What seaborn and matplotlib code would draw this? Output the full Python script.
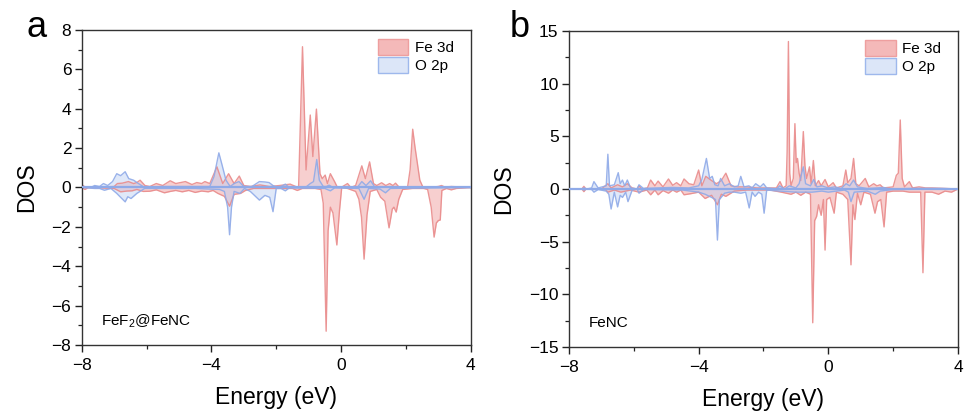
import numpy as np
import pandas as pd
import matplotlib
matplotlib.use("Agg")
import matplotlib.pyplot as plt
from matplotlib.patches import Patch
import seaborn as sns

# ---------------- data ----------------
# Panel a : FeF2@FeNC
a_fe_up_E = [-8.0, -7.95, -7.9, -7.8, -7.0, -6.9, -6.75, -6.56, -6.4, -6.3, -6.2, -6.05, -5.9, -5.7, -5.5,
             -5.27, -5.1, -4.95, -4.8, -4.6, -4.45, -4.3, -4.2, -4.05, -3.83, -3.65, -3.47, -3.3, -3.14, -3.0,
             -2.8, -2.5, -2.2, -1.9, -1.57, -1.4, -1.31, -1.19, -1.08, -0.95, -0.87, -0.76, -0.65, -0.58,
             -0.49, -0.42, -0.33, -0.2, -0.12, 0.0, 0.2, 0.3, 0.45, 0.64, 0.75, 0.88, 1.0, 1.1, 1.25,
             1.38, 1.5, 1.6, 1.68, 1.8, 2.05, 2.13, 2.21, 2.28, 2.43, 2.53, 2.7, 3.0, 3.1, 3.2, 3.4, 4.0]
a_fe_up = [0.0, 0.1, 0.0, 0.0, 0.05, 0.2, 0.22, 0.3, 0.2, 0.25, 0.37, 0.1, 0.05, 0.2, 0.1,
           0.34, 0.2, 0.25, 0.3, 0.15, 0.25, 0.2, 0.3, 0.2, 1.05, 0.2, 0.7, 0.2, 0.58, 0.1,
           0.05, 0.13, 0.05, 0.1, 0.17, 0.05, 0.0, 7.15, 0.89, 3.68, 1.57, 3.98, 0.7, 0.45,
           0.63, 0.2, 0.7, 0.3, 0.03, 0.0, 0.2, 0.0, 0.1, 1.1, 0.45, 1.3, 0.2, 0.1, 0.24,
           0.1, 0.2, 0.1, 0.22, 0.0, 0.0, 0.9, 2.96, 2.06, 0.37, 0.0, 0.0, 0.05, 0.1, 0.02, 0.05, 0.0]

a_fe_dn_E = [-8.0, -7.9, -7.8, -7.0, -6.8, -6.6, -6.45, -6.3, -6.1, -5.9, -5.7, -5.45, -5.27, -5.1, -4.9,
             -4.7, -4.5, -4.3, -4.1, -3.95, -3.8, -3.6, -3.44, -3.3, -3.1, -2.95, -2.7, -2.3, -1.9, -1.5,
             -1.35, -1.2, -0.8, -0.62, -0.55, -0.46, -0.4, -0.33, -0.25, -0.13, -0.05, 0.02, 0.2, 0.45, 0.55,
             0.63, 0.71, 0.8, 0.9, 1.1, 1.22, 1.35, 1.48, 1.58, 1.63, 1.7, 1.78, 1.9, 2.2, 2.55, 2.67,
             2.78, 2.87, 2.94, 3.0, 3.06, 3.11, 3.25, 3.4, 3.55, 4.0]
a_fe_dn = [0.0, -0.1, 0.0, -0.05, -0.22, -0.18, -0.17, -0.1, -0.2, -0.19, -0.12, -0.27, -0.2, -0.15, -0.22,
           -0.15, -0.25, -0.18, -0.22, -0.15, -0.3, -0.45, -0.95, -0.35, -0.3, -0.15, -0.05, -0.05, -0.05, -0.05,
           -0.15, -0.05, -0.05, -0.1, -0.8, -7.3, -2.2, -1.0, -1.3, -2.92, -1.2, 0.0, -0.05, -0.2, -0.6,
           -1.5, -3.64, -1.4, -0.2, -0.1, -0.5, -0.7, -2.05, -1.1, -1.0, -1.25, -0.6, -0.1, -0.05, -0.05, -0.1,
           -1.0, -2.52, -1.8, -1.68, -1.65, -0.15, -0.05, -0.12, -0.05, 0.0]

a_o_up_E = [-8.0, -7.7, -7.6, -7.45, -7.33, -7.2, -7.05, -6.92, -6.8, -6.66, -6.55, -6.4, -6.25, -6.06, -5.5,
            -4.5, -4.05, -3.92, -3.77, -3.68, -3.55, -3.42, -3.3, -3.15, -3.0, -2.75, -2.52, -2.35, -2.22,
            -2.1, -1.96, -1.85, -1.72, -1.6, -1.1, -0.95, -0.85, -0.75, -0.67, -0.55, -0.45, -0.37, -0.25,
            0.5, 0.64, 0.77, 0.91, 1.05, 1.5, 4.0]
a_o_up = [0.0, 0.02, 0.1, 0.05, 0.2, 0.1, 0.3, 0.7, 0.6, 0.8, 0.45, 0.37, 0.2, 0.0, 0.05,
          0.05, 0.05, 0.55, 1.76, 1.2, 0.37, 0.05, 0.2, 0.3, 0.05, 0.05, 0.3, 0.28, 0.25,
          0.1, 0.0, 0.05, 0.17, 0.0, 0.0, 0.2, 0.3, 1.42, 0.37, 0.05, 0.05, 0.12, 0.0,
          0.0, 0.3, 0.1, 0.34, 0.0, 0.02, 0.0]

a_o_dn_E = [-8.0, -7.6, -7.45, -7.3, -7.1, -6.92, -6.8, -6.66, -6.58, -6.48, -6.3, -6.06, -5.5, -4.5,
            -3.75, -3.6, -3.5, -3.44, -3.38, -3.3, -3.12, -2.98, -2.8, -2.52, -2.35, -2.2, -2.1, -2.0,
            -1.85, -1.72, -1.6, -0.5, -0.33, -0.2, 0.55, 0.71, 0.85, 1.2, 1.37, 1.52, 4.0]
a_o_dn = [0.0, -0.05, -0.05, -0.14, -0.05, -0.3, -0.5, -0.73, -0.47, -0.56, -0.3, -0.05, -0.05, -0.05,
          -0.1, -0.2, -1.0, -2.4, -1.0, -0.2, -0.3, -0.05, -0.2, -0.64, -0.4, -0.5, -1.23, -0.05,
          -0.05, -0.17, -0.02, -0.05, -0.17, -0.02, -0.05, -0.6, -0.05, -0.08, -0.27, -0.05, 0.0]

# Panel b : FeNC
b_fe_up_E = [-8.0, -7.6, -7.54, -7.48, -7.0, -6.8, -6.7, -6.5, -6.35, -6.2, -6.05, -5.9, -5.84, -5.75,
             -5.58, -5.48, -5.35, -5.25, -5.1, -4.93, -4.8, -4.68, -4.55, -4.45, -4.3, -4.15, -4.0, -3.9,
             -3.78, -3.6, -3.45, -3.3, -3.16, -3.0, -2.8, -2.5, -2.2, -1.8, -1.6, -1.49, -1.4, -1.3, -1.27,
             -1.23, -1.19, -1.15, -1.08, -1.03, -0.99, -0.95, -0.9, -0.85, -0.77, -0.72, -0.67, -0.58,
             -0.53, -0.46, -0.4, -0.3, -0.22, -0.1, 0.0, 0.15, 0.25, 0.45, 0.54, 0.6, 0.7, 0.78, 0.85,
             0.95, 1.14, 1.25, 1.4, 1.5, 1.6, 1.7, 2.0, 2.1, 2.16, 2.22, 2.28, 2.35, 2.5, 2.6, 2.8, 3.0,
             3.2, 4.0]
b_fe_up = [0.0, 0.0, 0.25, 0.0, 0.0, 0.5, 0.1, 0.4, 0.2, 0.5, 0.1, 0.0, 0.3, 0.0,
           0.1, 0.85, 0.3, 0.75, 0.2, 0.95, 0.35, 0.6, 0.3, 0.95, 0.5, 0.4, 1.8, 0.3,
           1.2, 0.8, 0.5, 0.8, 1.5, 0.3, 0.2, 0.2, 0.1, 0.1, 0.1, 0.7, 0.1, 0.3, 3.5,
           14.0, 1.5, 0.3, 1.0, 6.2, 2.5, 2.9, 1.5, 0.8, 5.45, 2.2, 1.0, 2.1,
           0.5, 2.7, 0.3, 0.8, 0.3, 0.9, 0.2, 0.6, 0.1, 0.3, 1.8, 0.6, 1.0, 2.9, 0.5,
           0.3, 1.0, 0.2, 0.5, 0.3, 0.4, 0.1, 0.2, 1.3, 1.5, 6.55, 1.0, 0.2, 0.7, 0.1, 0.2, 0.1,
           0.1, 0.0]

b_fe_dn_E = [-8.0, -7.6, -7.54, -7.48, -6.9, -6.8, -6.6, -6.4, -6.1, -5.84, -5.6, -5.48, -5.35, -5.25,
             -5.1, -4.93, -4.8, -4.68, -4.55, -4.45, -4.25, -4.0, -3.8, -3.6, -3.42, -3.3, -3.16, -2.9, -2.5,
             -1.8, -1.45, -1.3, -1.15, -1.0, -0.85, -0.7, -0.55, -0.48, -0.42, -0.36, -0.3, -0.22, -0.15,
             -0.1, -0.05, 0.05, 0.18, 0.25, 0.45, 0.6, 0.7, 0.76, 0.82, 0.9, 1.0, 1.1, 1.3, 1.44, 1.52,
             1.62, 1.72, 1.8, 2.0, 2.3, 2.5, 2.85, 2.92, 2.98, 3.2, 3.4, 3.6, 3.8, 4.0]
b_fe_dn = [0.0, 0.0, -0.25, 0.0, 0.0, -0.3, -0.1, -0.3, -0.1, -0.3, -0.1, -0.55, -0.1, -0.55,
           -0.15, -0.4, -0.1, -0.3, -0.1, -0.55, -0.45, -0.3, -0.9, -0.6, -1.5, -0.5, -0.7, -0.2, -0.1,
           -0.1, -0.3, -0.4, -0.5, -0.3, -0.6, -0.3, -0.5, -12.7, -3.0, -2.6, -1.5, -2.5, -1.0,
           -5.8, -1.0, -0.8, -2.3, -0.3, -0.5, -1.0, -7.2, -1.5, -2.9, -0.4, -1.5, -0.3, -0.5, -2.3, -1.2,
           -1.0, -3.6, -0.3, -0.2, -0.2, -0.3, -0.3, -7.95, -0.3, -0.3, -0.5, -0.2, -0.3, 0.0]

b_o_up_E = [-8.0, -7.6, -7.54, -7.45, -7.3, -7.23, -7.1, -6.85, -6.8, -6.75, -6.6, -6.48, -6.42, -6.35,
            -6.28, -6.2, -6.1, -5.9, -5.84, -5.7, -5.3, -4.8, -4.3, -4.0, -3.9, -3.76, -3.66, -3.58, -3.5,
            -3.4, -3.32, -3.2, -3.05, -2.9, -2.78, -2.7, -2.6, -2.45, -2.35, -2.24, -2.1, -2.0, -1.9, -1.6,
            -1.5, -1.35, -1.2, -1.0, -0.9, -0.77, -0.7, -0.55, -0.45, -0.35, -0.2, 0.0, 0.2, 0.4, 0.55,
            0.66, 0.78, 0.9, 1.2, 1.5, 1.7, 1.9, 2.5, 3.0, 3.5, 4.0]
b_o_up = [0.0, 0.0, 0.1, 0.0, 0.1, 0.7, 0.1, 0.3, 3.3, 0.3, 0.4, 1.55, 0.5, 0.85,
          0.3, 0.85, 0.1, 0.0, 0.4, 0.05, 0.1, 0.15, 0.1, 0.3, 0.9, 2.9, 1.0, 1.2, 0.4,
          0.3, 1.0, 0.3, 0.5, 0.2, 0.3, 1.2, 0.2, 0.3, 0.1, 0.5, 0.2, 0.5, 0.1, 0.0,
          0.3, 0.0, 0.3, 0.1, 0.5, 2.1, 0.5, 0.3, 0.9, 0.2, 0.3, 0.1, 0.2, 0.05, 0.5,
          0.3, 0.85, 0.2, 0.05, 0.1, 0.15, 0.0, 0.05, 0.05, 0.05, 0.0]

b_o_dn_E = [-8.0, -7.6, -7.54, -7.45, -7.3, -7.23, -7.1, -6.85, -6.77, -6.7, -6.6, -6.5, -6.42, -6.35,
            -6.25, -6.18, -6.05, -5.9, -5.84, -5.7, -4.5, -4.0, -3.8, -3.6, -3.48, -3.42, -3.36, -3.2,
            -3.05, -2.9, -2.7, -2.55, -2.44, -2.35, -2.26, -2.15, -2.05, -1.98, -1.9, -1.5, -1.0, -0.5,
            -0.2, 0.0, 0.5, 0.62, 0.7, 0.8, 1.2, 1.45, 1.6, 2.0, 4.0]
b_o_dn = [0.0, 0.0, -0.1, 0.0, -0.05, -0.3, -0.05, -0.2, -0.5, -1.9, -0.3, -1.7, -0.6, -0.8,
          -0.3, -1.2, -0.1, 0.0, -0.4, -0.05, -0.1, -0.3, -0.5, -0.8, -1.0, -4.85, -1.0, -0.4,
          -0.3, -0.3, -0.4, -0.3, -1.8, -0.3, -0.7, -0.3, -0.5, -2.3, -0.1, -0.2, -0.3, -0.3,
          -0.2, -0.3, -0.1, -0.3, -1.2, -0.3, -0.2, -0.5, -0.2, -0.05, 0.0]

labels = ["Fe 3d", "O 2p"]
panel_letters = ["a", "b"]
sample_names = [r"FeF$_\mathregular{2}$@FeNC", "FeNC"]
x_ticks = [-8, -4, 0, 4]
y_ticks_a = [-8, -6, -4, -2, 0, 2, 4, 6, 8]
y_ticks_b = [-15, -10, -5, 0, 5, 10, 15]

# ---------------- style ----------------
sns.set_style("ticks")
plt.rcParams["font.family"] = ["Liberation Sans", "DejaVu Sans"]
plt.rcParams["mathtext.fontset"] = "custom"
plt.rcParams["mathtext.rm"] = "Liberation Sans"
plt.rcParams["axes.unicode_minus"] = True
plt.rcParams["text.color"] = "black"
plt.rcParams["axes.labelcolor"] = "black"
plt.rcParams["xtick.labelcolor"] = "black"
plt.rcParams["ytick.labelcolor"] = "black"

RED_LINE = "#E98B8B"
RED_FILL = "#F2A8A8"
BLUE_LINE = "#8FAAE8"
BLUE_FILL = "#B9CCF2"

fig = plt.figure(figsize=(9.65, 4.17), dpi=100)
ax_a = fig.add_axes([0.0847, 0.1727, 0.4031, 0.7554])
ax_b = fig.add_axes([0.5896, 0.1679, 0.4031, 0.7578])

panels = [
    (ax_a, [(a_fe_up_E, a_fe_up), (a_fe_dn_E, a_fe_dn)], [(a_o_up_E, a_o_up), (a_o_dn_E, a_o_dn)],
     (-8, 8), y_ticks_a, 1.0),
    (ax_b, [(b_fe_up_E, b_fe_up), (b_fe_dn_E, b_fe_dn)], [(b_o_up_E, b_o_up), (b_o_dn_E, b_o_dn)],
     (-15, 15), y_ticks_b, 2.5),
]

for i, (ax, fe, ox, ylim, yt, yminor) in enumerate(panels):
    for series, lc, fc, falpha in [(fe, RED_LINE, RED_FILL, 0.55), (ox, BLUE_LINE, BLUE_FILL, 0.45)]:
        for E, D in series:
            df = pd.DataFrame({"E": E, "DOS": D})
            ax.fill_between(df["E"], 0, df["DOS"], color=fc, alpha=falpha, lw=0)
            sns.lineplot(data=df, x="E", y="DOS", ax=ax, color=lc, lw=1.0, alpha=0.9,
                         estimator=None, sort=False)
    ax.axhline(0, color=BLUE_LINE, lw=1.6, zorder=3)
    ax.set_xlim(-8, 4)
    ax.set_ylim(*ylim)
    ax.set_xticks(x_ticks)
    ax.set_xticks([-6, -2, 2], minor=True)
    ax.set_yticks(yt)
    ax.set_yticks(np.arange(ylim[0], ylim[1] + 0.01, yminor), minor=True)
    ax.tick_params(axis="both", which="major", direction="out", length=5, width=1,
                   labelsize=12.5, color="#222222")
    ax.tick_params(axis="x", which="major", pad=4.5)
    ax.tick_params(axis="y", which="major", pad=2.5)
    ax.tick_params(axis="both", which="minor", direction="out", length=3, width=0.9, color="#222222")
    for sp in ax.spines.values():
        sp.set_visible(True)
        sp.set_linewidth(1.0)
        sp.set_color("#333333")
    ax.set_xlabel("Energy (eV)", fontsize=16.5, labelpad=9)
    ax.set_ylabel("DOS", fontsize=16.5, labelpad=10)
    handles = [Patch(facecolor="#F4B9B9", edgecolor="#EE9F9F", lw=1.0),
               Patch(facecolor="#DCE6F8", edgecolor="#9EB8EC", lw=1.0)]
    ax.legend(handles, labels, loc="upper right", frameon=False, fontsize=11,
              handlelength=2.0, handleheight=1.25, handletextpad=0.45, labelspacing=0.1,
              borderaxespad=0.3, bbox_to_anchor=(0.985, 1.005))
    ax.text(0.05, 0.075, sample_names[i], transform=ax.transAxes, fontsize=11, ha="left", va="center")

fig.text(0.027, 0.935, panel_letters[0], fontsize=26, ha="left", va="center")
fig.text(0.528, 0.935, panel_letters[1], fontsize=26, ha="left", va="center")

fig.savefig("out.png", dpi=100)
